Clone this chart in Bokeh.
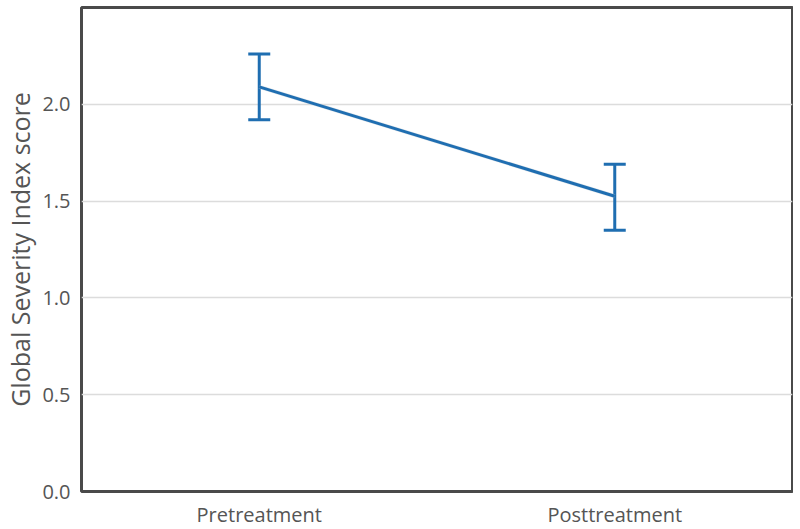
from bokeh.plotting import figure
from bokeh.models import ColumnDataSource, Whisker, TeeHead, FactorRange, Range1d, CustomJSTickFormatter
from bokeh.embed import file_html
from bokeh.resources import INLINE

categories = ["Pretreatment", "Posttreatment"]
means = [2.09, 1.525]
upper = [2.26, 1.69]
lower = [1.92, 1.35]
y_ticks = [0, 0.5, 1.0, 1.5, 2.0]

color = "#1f6eb1"
src = ColumnDataSource(dict(x=categories, m=means, up=upper, lo=lower))

p = figure(x_range=FactorRange(*categories, range_padding=0), y_range=Range1d(0, 2.5),
           frame_width=711, frame_height=484, output_backend="svg", toolbar_location=None,
           min_border_left=0, min_border_right=1, min_border_top=7, min_border_bottom=0)
p.background_fill_color = "white"
p.border_fill_color = "white"
p.outline_line_color = "#4a4a4a"
p.outline_line_width = 3

p.line("x", "m", source=src, line_color="#c8d0d8", line_width=4, line_alpha=0.5)
p.line("x", "m", source=src, line_color=color, line_width=3)
w = Whisker(base="x", upper="up", lower="lo", source=src, line_color=color, line_width=3,
            upper_head=TeeHead(size=22, line_color=color, line_width=3),
            lower_head=TeeHead(size=22, line_color=color, line_width=3))
p.add_layout(w)

p.yaxis.ticker = y_ticks
p.yaxis.formatter = CustomJSTickFormatter(code="return tick.toFixed(1);")
for ax in (p.xaxis[0], p.yaxis[0]):
    ax.axis_line_color = None
    ax.major_tick_line_color = None
    ax.minor_tick_line_color = None
    ax.major_tick_out = 0
    ax.major_tick_in = 0
    ax.major_label_text_font = "Open Sans"
    ax.major_label_text_font_size = "20px"
    ax.major_label_text_color = "#555555"
p.yaxis.major_label_standoff = 11
p.xaxis.major_label_standoff = 9
p.yaxis.axis_label = "Global Severity Index score"
p.yaxis.axis_label_text_font = "Open Sans"
p.yaxis.axis_label_text_font_size = "25px"
p.yaxis.axis_label_text_font_style = "normal"
p.yaxis.axis_label_text_color = "#555555"
p.yaxis.axis_label_standoff = 2

p.xgrid.grid_line_color = None
p.ygrid.grid_line_color = "#dcdcdc"
p.ygrid.grid_line_width = 1.5

open("out.html", "w").write(file_html(p, INLINE))
